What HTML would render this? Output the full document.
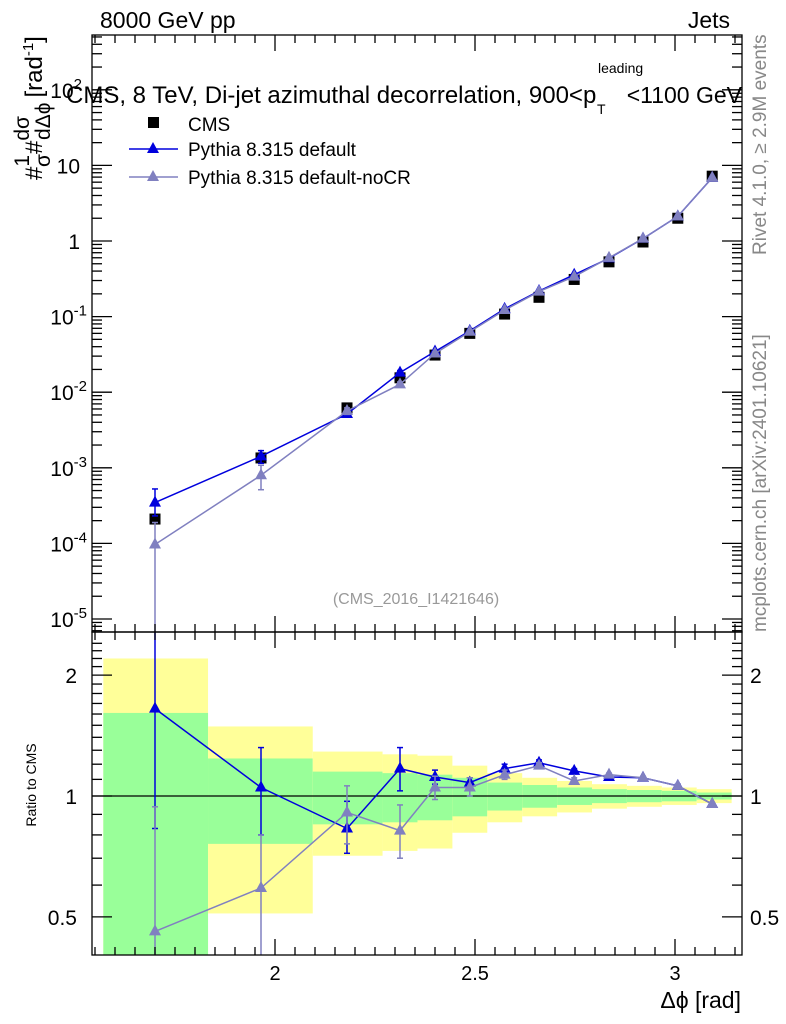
<!DOCTYPE html>
<html><head><meta charset="utf-8"><style>
html,body{margin:0;background:#fff;overflow:hidden;width:786px;height:1024px}
svg{display:block;font-family:"Liberation Sans",sans-serif}
</style></head><body>
<svg id="c" width="786" height="1024" viewBox="0 0 786 1024" xmlns="http://www.w3.org/2000/svg">
<text x="100" y="28" font-size="23">8000 GeV pp</text>
<text x="730" y="28" font-size="23" text-anchor="end">Jets</text>
<g>
<text x="66" y="103" font-size="24">CMS, 8 TeV, Di-jet azimuthal decorrelation, 900&lt;p</text>
<text x="598" y="73" font-size="14">leading</text>
<text x="597" y="114" font-size="14">T</text>
<text x="742" y="103" font-size="23" text-anchor="end">&lt;1100 GeV</text>
</g>
<text transform="translate(766,255) rotate(-90)" font-size="19" fill="#888">Rivet 4.1.0, ≥ 2.9M events</text>
<text transform="translate(766,632) rotate(-90)" font-size="19" fill="#888">mcplots.cern.ch [arXiv:2401.10621]</text>
<text x="416" y="604" font-size="16" fill="#999" text-anchor="middle">(CMS_2016_I1421646)</text>
<g transform="translate(42,180) rotate(-90)">
<text x="0" y="0" font-size="24">#<tspan font-size="21" dy="-13">1</tspan><tspan font-size="21" dy="21" dx="-12">σ</tspan><tspan dy="-8">#</tspan><tspan font-size="21" dy="-13">dσ</tspan><tspan font-size="21" dy="21" dx="-24">dΔϕ</tspan><tspan dy="-8" dx="5">[rad</tspan><tspan font-size="15" dy="-9">-1</tspan><tspan dy="9">]</tspan></text>
</g>
<text transform="translate(36,785) rotate(-90)" font-size="14" text-anchor="middle">Ratio to CMS</text>
<text x="741" y="1008" font-size="23" text-anchor="end">Δϕ [rad]</text>
<g id="legend">
<rect x="148" y="117" width="11" height="11"/>
<text x="188" y="131" font-size="19">CMS</text>
<line x1="129" y1="149" x2="178" y2="149" stroke="#0000dd" stroke-width="1.5"/>
<polygon points="153,142 147,153 159,153" fill="#0000dd"/>
<text x="188" y="156" font-size="19">Pythia 8.315 default</text>
<line x1="129" y1="177" x2="178" y2="177" stroke="#8080c0" stroke-width="1.5"/>
<polygon points="153,170 147,181 159,181" fill="#8080c0"/>
<text x="188" y="184" font-size="19">Pythia 8.315 default-noCR</text>
</g>
</svg>
<script>
const binEdges=[1.5708,1.8326,2.0944,2.2689,2.3562,2.4435,2.5307,2.6180,2.7053,2.7925,2.8798,2.9671,3.0543,3.1416];
const xCenters=[1.70,1.965,2.18,2.3125,2.40,2.487,2.574,2.66,2.748,2.835,2.92,3.007,3.093];
const cmsValues=[2.1e-4,1.35e-3,6.2e-3,0.0155,0.031,0.06,0.108,0.18,0.31,0.53,0.97,2.0,7.2];
const defaultRatio=[1.65,1.05,0.83,1.17,1.115,1.08,1.17,1.21,1.155,1.115,1.11,1.06,0.955];
const defaultRatioHi=[3.0,1.32,0.97,1.32,1.16,1.11,1.2,1.23,1.17,1.13,1.12,1.07,0.96];
const defaultRatioLo=[0.83,0.80,0.72,1.03,1.07,1.05,1.14,1.19,1.14,1.10,1.10,1.05,0.95];
const defaultMainHi=[2.5,1.25,0.9,1.25,1.15,1.1,1.19,1.23,1.17,1.13,1.12,1.07,0.96];
const defaultMainLo=[1.1,0.85,0.78,1.1,1.08,1.06,1.15,1.19,1.14,1.10,1.10,1.05,0.95];
const nocrRatio=[0.46,0.59,0.91,0.82,1.05,1.05,1.13,1.19,1.09,1.13,1.11,1.06,0.955];
const nocrRatioHi=[0.94,0.80,1.06,0.95,1.12,1.11,1.16,1.21,1.11,1.14,1.12,1.07,0.96];
const nocrRatioLo=[0.01,0.01,0.76,0.70,0.98,1.0,1.10,1.17,1.07,1.12,1.10,1.05,0.95];
const nocrMainHi=[0.9,0.8,1.0,0.88,1.1,1.08,1.15,1.21,1.11,1.14,1.12,1.07,0.96];
const nocrMainLo=[0.01,0.38,0.82,0.76,1.0,1.02,1.11,1.17,1.07,1.12,1.10,1.05,0.95];
const yellowBand=[1.2,0.49,0.29,0.27,0.26,0.19,0.14,0.11,0.09,0.07,0.06,0.05,0.04];
const greenBand=[0.61,0.24,0.15,0.14,0.13,0.11,0.08,0.065,0.05,0.04,0.035,0.03,0.02];
const xTickLabels=["2","2.5","3"];
const yTickExp=[-5,-4,-3,-2,-1,0,1,2];
const ratioTicks=[0.5,1,2];

const L=92,R=742,T=35,M=632,B=955;
const X=v=>275+(v-2)*400;
const Y=v=>241-75.6*Math.log10(v);
const RY=r=>796-401.6*Math.log10(r);
const svg=document.getElementById('c');
const NS='http://www.w3.org/2000/svg';
function mk(tag,attrs,parent){const e=document.createElementNS(NS,tag);for(const k in attrs)e.setAttribute(k,attrs[k]);(parent||svg).appendChild(e);return e;}
const defs=mk('defs',{});
const cp1=mk('clipPath',{id:'cm'},defs);mk('rect',{x:L,y:T,width:R-L,height:M-T},cp1);
const cp2=mk('clipPath',{id:'cr'},defs);mk('rect',{x:L,y:M,width:R-L,height:B-M},cp2);
const gMain=mk('g',{'clip-path':'url(#cm)'});


const gRat=mk('g',{'clip-path':'url(#cr)'});



for(let i=0;i<binEdges.length-1;i++){
  const x1=X(binEdges[i]),x2=X(binEdges[i+1]);
  const yl=mk('rect',{x:x1,width:x2-x1,y:RY(1+yellowBand[i]),height:RY(Math.max(1-yellowBand[i],0.01))-RY(1+yellowBand[i]),fill:'#ffff99'},gRat);
  
  
  const gr=mk('rect',{x:x1,width:x2-x1,y:RY(1+greenBand[i]),height:RY(Math.max(1-greenBand[i],0.01))-RY(1+greenBand[i]),fill:'#99ff99'},gRat);
  
  
}
mk('line',{x1:L,x2:R,y1:RY(1),y2:RY(1),stroke:'#000','stroke-width':1.2},gRat);

cmsValues.forEach((v,i)=>{
  const r=mk('rect',{x:X(xCenters[i])-5.5,y:Y(v)-5.5,width:11,height:11,fill:'#000'},gMain);
  
  
});
function series(ratio,hi,lo,mhi,mlo,col,name){
  const pm=ratio.map((r,i)=>[X(xCenters[i]),Y(r*cmsValues[i])]);
  const pr=ratio.map((r,i)=>[X(xCenters[i]),RY(r)]);
  [[gMain,pm,i=>Y(mhi[i]*cmsValues[i]),i=>Y(mlo[i]*cmsValues[i])],[gRat,pr,i=>RY(hi[i]),i=>RY(lo[i])]].forEach(([g,pts,fh,fl])=>{
    const pl=mk('polyline',{points:pts.map(p=>p.join(',')).join(' '),fill:'none',stroke:col,'stroke-width':1.5},g);
    
    
    pts.forEach((p,i)=>{
      const e=mk('g',{stroke:col,'stroke-width':1.5},g);
      
      
      mk('line',{x1:p[0],x2:p[0],y1:fh(i),y2:fl(i)},e);
      mk('line',{x1:p[0]-3,x2:p[0]+3,y1:fh(i),y2:fh(i)},e);
      mk('line',{x1:p[0]-3,x2:p[0]+3,y1:fl(i),y2:fl(i)},e);
      const t=mk('polygon',{points:`${p[0]},${p[1]-7} ${p[0]-6},${p[1]+4} ${p[0]+6},${p[1]+4}`,fill:col},g);
      
      
    });
  });
}
series(defaultRatio,defaultRatioHi,defaultRatioLo,defaultMainHi,defaultMainLo,'#0000dd','pythia-default');
series(nocrRatio,nocrRatioHi,nocrRatioLo,nocrMainHi,nocrMainLo,'#8080c0','pythia-nocr');

const ax=mk('g',{stroke:'#000','stroke-width':1.3,fill:'none'});


mk('rect',{x:L,y:T,width:R-L,height:M-T},ax);
mk('rect',{x:L,y:M,width:R-L,height:B-M},ax);
for(let v=1.55;v<3.17;v+=0.05){
  const vv=Math.round(v*100)/100,x=X(vv);if(x<L||x>R)continue;
  const maj=Math.abs(vv*2-Math.round(vv*2))<1e-6,len=maj?16:8;
  [[T,1],[M,-1],[M,1],[B,-1]].forEach(([y,s])=>mk('line',{x1:x,x2:x,y1:y,y2:y+s*len},ax));
}
xTickLabels.forEach(t=>{const e=mk('text',{x:X(+t),y:980,'font-size':20,'text-anchor':'middle',stroke:'none',fill:'#000'});e.textContent=t;
 });
for(let e=-6;e<=2;e++)for(let m=1;m<10;m++){
  const y=Y(m*Math.pow(10,e));if(y<T||y>M)continue;const len=m==1?20:10;
  mk('line',{x1:L,x2:L+len,y1:y,y2:y},ax);mk('line',{x1:R,x2:R-len,y1:y,y2:y},ax);
}
yTickExp.forEach(e=>{
  const t=mk('text',{x:80,y:Y(Math.pow(10,e))+8,'font-size':21,'text-anchor':'end',stroke:'none',fill:'#000'});
  
  
  if(e==0)t.textContent='1';else if(e==1)t.textContent='10';
  else{t.innerHTML='10<tspan font-size="15" dy="-9">'+e+'</tspan>';t.setAttribute('x',e<0?87:82);}
});
for(let r=0.4;r<=2.5;r+=0.1){
  const rr=Math.round(r*10)/10,y=RY(rr);if(y<M||y>B)continue;
  const len=(rr==0.5||rr==1||rr==2)?20:10;
  mk('line',{x1:L,x2:L+len,y1:y,y2:y},ax);mk('line',{x1:R,x2:R-len,y1:y,y2:y},ax);
}
ratioTicks.forEach(r=>{
  [[77,'end'],[750,'start']].forEach(([x,a])=>{
    const t=mk('text',{x:x,y:RY(r)+8,'font-size':21,'text-anchor':a,stroke:'none',fill:'#000'});t.textContent=String(r);
    
    
  });
});
</script>
</body></html>
